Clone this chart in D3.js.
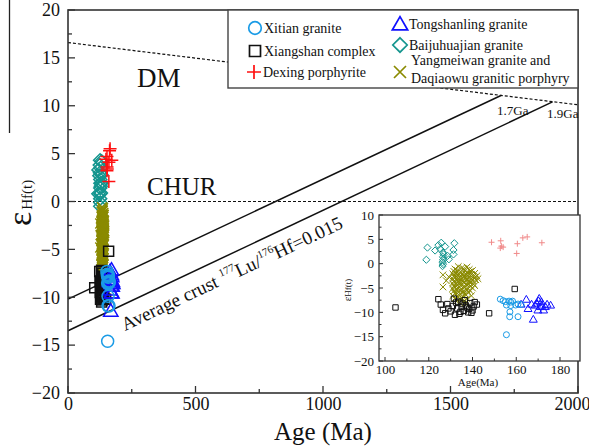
<!DOCTYPE html>
<html lang="en">
<head>
  <meta charset="UTF-8">
  <title>Hf isotope evolution</title>
  <script src="https://d3js.org/d3.v7.min.js"></script>
  <style>
    body { margin: 0; background: #fff; }
    text { font-family: "Liberation Serif", "Times New Roman", serif; fill: #111; }
  </style>
</head>
<body>
<script>
// canvas
var width = 589,
    height = 447;

// ---- data: [age (Ma), eHf(t)] ----
var xitian = [[152.7,-7.3],[154,-7.6],[155.1,-7.8],[156.7,-7.7],[157.5,-7.9],[158.3,-7.7],
  [155.5,-8.5],[157.5,-8.6],[159.7,-8.5],[160.8,-8.3],[157.1,-9.9],[157,-10.9],
  [160.8,-10.9],[155.5,-14.6],[162.2,-8.4]];

var xiangshan = [[104.8,-9.0],[124.4,-7.3],[125.5,-8.4],[126.5,-9.5],[127.5,-10.2],[128.5,-8.3],
  [130,-9.8],[131,-8.7],[132,-10.5],[133,-9.2],[133.5,-7.8],[134,-10.3],[135,-8.9],[136,-9.7],
  [136.5,-7.5],[137,-8.6],[138,-10.0],[138.5,-9.3],[139,-8.1],[140,-9.6],[140.5,-8.8],[141,-7.9],
  [142,-8.4],[131.5,-7.2],[134.5,-9.9],[137.5,-9.0],[129,-9.2],[147.6,-10.2],[159.3,-5.2],
  [135.5,-8.2],[132.5,-8.0],[139.5,-10.1]];

var dexing = [[148.7,4.4],[152.9,4.7],[153.2,3.6],[152.7,3.2],[154,3.4],[160.2,2.1],
  [160.5,4.1],[163,5.3],[165,5.5],[171.7,4.3]];

var tongshanling = [[162.2,-8.3],[164.6,-7.3],[165.4,-9.2],[167,-8.3],[167.8,-11.4],[168.6,-8.5],
  [169.4,-8.1],[170.2,-7.6],[170.5,-7.1],[171,-8.8],[171.7,-8.5],[172.5,-9.5],[173.3,-8.8],
  [174.1,-8.3],[175.7,-8.5],[169.9,-9.5],[171.5,-7.8]];

var baijuhuajian = [[119.4,3.3],[118.9,0.8],[122.9,2.7],[124.4,3.8],[125.7,4.3],[125.2,3.0],
  [126.5,2.3],[126.5,1.4],[126.5,0.8],[126.3,0.3],[126.5,-0.1],[126.3,-0.5],[126.8,1.9],
  [128.6,1.6],[129.2,0.9],[131.7,4.2],[131.3,2.8],[131.3,1.9],[127.5,3.5]];

var yangmeiwan = [[126.5,-2.3],[129.2,-2.7],[126.5,-4.8],[128,-3.5],
  [133.5,-0.6],[137.5,-0.7],[132,-1.1],[135,-0.9],[138.5,-1.2],[136,-1.0],
  [131.5,-1.6],[133,-1.4],[134.5,-1.7],[136.5,-1.5],[139,-1.6],[140,-1.4],
  [131,-2.1],[132.5,-1.9],[134,-2.2],[135.5,-2.0],[137,-2.1],[138,-1.9],[139.5,-2.2],[141,-2.0],
  [131.5,-2.6],[133,-2.4],[134.5,-2.7],[136,-2.5],[137.5,-2.6],[139,-2.4],[140.5,-2.6],[142,-2.5],
  [131,-3.1],[132,-2.9],[133.5,-3.0],[135,-3.2],[136.5,-2.9],[138,-3.1],[139.5,-3.0],[141,-2.8],[142.5,-3.1],
  [131.5,-3.6],[133,-3.4],[134,-3.5],[135.5,-3.7],[137,-3.4],[138.5,-3.6],[140,-3.5],[141.5,-3.3],
  [131,-4.1],[132.5,-3.9],[134,-4.0],[135,-4.2],[136.5,-3.9],[138,-4.1],[139,-4.0],[140.5,-4.2],
  [131.5,-4.6],[133,-4.4],[134.5,-4.5],[136,-4.7],[137.5,-4.4],[139,-4.6],[141,-4.5],
  [131,-5.1],[132,-4.9],[133.5,-5.0],[135,-5.2],[136.5,-4.9],[138,-5.1],[140,-5.0],
  [131.5,-5.6],[133,-5.4],[134.5,-5.5],[136,-5.7],[137.5,-5.4],[139,-5.6],
  [132,-6.1],[133.5,-5.9],[135,-6.0],[136.5,-6.2],[138,-5.9],
  [131,-6.6],[132.5,-6.4],[134,-6.5],[135.5,-6.7],[137,-6.4],[139.5,-6.6],
  [132,-7.1],[133.5,-6.9],[135,-7.0],[137.5,-7.2],
  [133,-7.6],[134.5,-7.4],[136,-7.7],[134,-8.0],[136.5,-8.1]];

// reference lines
var dmLine = [[0,16.6],[2000,10.1]];
var churLine = [[0,0],[2000,0]];
var crust17 = [[0,-10.2],[1700,11.1]];
var crust19 = [[0,-13.5],[1900,10.4]];

// ticks
var xTicks = [0,500,1000,1500,2000];
var yTicks = [-20,-15,-10,-5,0,5,10,15,20];
var insetXTicks = [100,120,140,160,180];
var insetYTicks = [-20,-15,-10,-5,0,5,10];

// series styles (main colour, inset colour, marker)
var series = [
  {name:"Baijuhuajian granite", data:baijuhuajian, color:"#14958e", inset:"#14958e", shape:"diamond"},
  {name:"Yangmeiwan", data:yangmeiwan, color:"#8a8a00", inset:"#8a8a00", shape:"x"},
  {name:"Xiangshan complex", data:xiangshan, color:"#111", inset:"#111", shape:"square"},
  {name:"Tongshanling granite", data:tongshanling, color:"#1010ff", inset:"#1010ff", shape:"triangle"},
  {name:"Xitian granite", data:xitian, color:"#1a9be6", inset:"#1a9be6", shape:"circle"},
  {name:"Dexing porphyrite", data:dexing, color:"#ff1010", inset:"#f08a8a", shape:"plus"}
];

// marker path, s = half size
function marker(shape, s) {
  var p = d3.path();
  if (shape == "circle") {
    p.moveTo(s, 0); p.arc(0, 0, s, 0, 2 * Math.PI);
  } else if (shape == "square") {
    p.rect(-s, -s, 2 * s, 2 * s);
  } else if (shape == "triangle") {
    p.moveTo(0, -s * 1.05); p.lineTo(s * 1.1, s * 0.85); p.lineTo(-s * 1.1, s * 0.85); p.closePath();
  } else if (shape == "diamond") {
    p.moveTo(0, -s); p.lineTo(s, 0); p.lineTo(0, s); p.lineTo(-s, 0); p.closePath();
  } else if (shape == "plus") {
    p.moveTo(-s, 0); p.lineTo(s, 0); p.moveTo(0, -s); p.lineTo(0, s);
  } else {
    p.moveTo(-s, -s); p.lineTo(s, s); p.moveTo(-s, s); p.lineTo(s, -s);
  }
  return p.toString();
}

var mainSize = {circle:6, square:5, triangle:6.5, diamond:6.5, plus:6.5, x:5};
var insetSize = {circle:3, square:2.7, triangle:3.6, diamond:3.6, plus:3, x:3.3};

var svg = d3.select("body").append("svg")
    .attr("width", width)
    .attr("height", height);

// ---- main plot ----
var x = d3.scaleLinear().domain([0, 2000]).range([68, 578]);
var y = d3.scaleLinear().domain([-20, 20]).range([393, 10]);

var line = d3.line().x(function(d){ return x(d[0]); }).y(function(d){ return y(d[1]); });

svg.append("path").datum(dmLine).attr("d", line)
   .attr("fill", "none").attr("stroke", "#111").attr("stroke-width", 1.2).attr("stroke-dasharray", "3,2");
svg.append("path").datum(churLine).attr("d", line)
   .attr("fill", "none").attr("stroke", "#111").attr("stroke-width", 1.2).attr("stroke-dasharray", "3,2");
[crust17, crust19].forEach(function(c){
  svg.append("path").datum(c).attr("d", line)
     .attr("fill", "none").attr("stroke", "#111").attr("stroke-width", 1.5);
});

// frame
svg.append("rect").attr("x", x(0)).attr("y", y(20))
   .attr("width", x(2000) - x(0)).attr("height", y(-20) - y(20))
   .attr("fill", "none").attr("stroke", "#333").attr("stroke-width", 1.6);

// axes, ticks inside
var xAxis = d3.axisBottom(x).tickValues(xTicks).tickSize(0).tickPadding(4).tickFormat(d3.format("d"));
var gx = svg.append("g").attr("transform", "translate(0," + y(-20) + ")").call(xAxis);
var yAxis = d3.axisLeft(y).tickValues(yTicks).tickSize(0).tickPadding(8);
var gy = svg.append("g").attr("transform", "translate(" + x(0) + ",0)").call(yAxis);
[gx, gy].forEach(function(g){
  g.select(".domain").remove();
  g.selectAll("text").style("font-family", "Liberation Serif").style("font-size", "18px").attr("fill", "#111");
});
gx.select(".tick:last-of-type text").attr("dx", "-6");

// tick marks
d3.range(0, 2001, 250).forEach(function(v){
  svg.append("line").attr("x1", x(v)).attr("x2", x(v))
     .attr("y1", y(-20)).attr("y2", y(-20) - (v % 500 == 0 ? 7 : 4))
     .attr("stroke", "#333").attr("stroke-width", 1.3);
});
d3.range(-20, 20.1, 2.5).forEach(function(v){
  svg.append("line").attr("y1", y(v)).attr("y2", y(v))
     .attr("x1", x(0)).attr("x2", x(0) + (v % 5 == 0 ? 7 : 4))
     .attr("stroke", "#333").attr("stroke-width", 1.3);
});

// axis titles
svg.append("text").attr("x", x(1000)).attr("y", 440).attr("text-anchor", "middle")
   .style("font-size", "25px").text("Age (Ma)");
var yl = svg.append("text").attr("transform", "translate(31,226) rotate(-90)").attr("text-anchor", "start");
yl.append("tspan").style("font-size", "34px").text("ε");
yl.append("tspan").style("font-size", "15px").attr("dx", "2").attr("dy", "1").text("Hf(t)");
svg.append("line").attr("x1", 9.5).attr("x2", 9.5).attr("y1", 0).attr("y2", 133)
   .attr("stroke", "#222").attr("stroke-width", 1.3);

// line labels
svg.append("text").attr("x", 137).attr("y", 87).style("font-size", "27px").text("DM");
svg.append("text").attr("x", 147).attr("y", 195).style("font-size", "25px").text("CHUR");
svg.append("text").attr("x", 497).attr("y", 115).style("font-size", "13px").text("1.7Ga");
svg.append("text").attr("x", 547).attr("y", 118).style("font-size", "13px").text("1.9Ga");

var ang = Math.atan2(y(crust19[1][1]) - y(crust19[0][1]), x(crust19[1][0]) - x(crust19[0][0])) * 180 / Math.PI;
var cl = svg.append("text").attr("transform", "translate(125,331) rotate(" + ang + ")").style("font-size", "19px");
cl.append("tspan").text("Average crust ");
cl.append("tspan").style("font-size", "11px").attr("dy", "-8").text("177");
cl.append("tspan").attr("dy", "8").text("Lu/");
cl.append("tspan").style("font-size", "11px").attr("dy", "-8").text("176");
cl.append("tspan").attr("dy", "8").text("Hf=0.015");

// main scatter
series.forEach(function(s){
  svg.append("g").selectAll("path").data(s.data).enter().append("path")
     .attr("transform", function(d){ return "translate(" + x(d[0]) + "," + y(d[1]) + ")"; })
     .attr("d", marker(s.shape, mainSize[s.shape]))
     .attr("fill", "none").attr("stroke", s.color).attr("stroke-width", 1.5);
});

// ---- legend ----
var lg = svg.append("g");
lg.append("rect").attr("x", 228).attr("y", 10).attr("width", 350).attr("height", 78)
  .attr("fill", "#fff").attr("stroke", "#444").attr("stroke-width", 1.4);
var legendItems = [
  {shape:"circle", color:"#1a9be6", lx:255, ly:28, text:["Xitian granite"]},
  {shape:"square", color:"#111", lx:255, ly:51, text:["Xiangshan complex"]},
  {shape:"plus", color:"#ff1010", lx:254, ly:72, text:["Dexing porphyrite"]},
  {shape:"triangle", color:"#1010ff", lx:400, ly:24, text:["Tongshanling granite"]},
  {shape:"diamond", color:"#14958e", lx:400, ly:45, text:["Baijuhuajian granite"]},
  {shape:"x", color:"#8a8a00", lx:400, ly:72, text:["Yangmeiwan granite and", "Daqiaowu granitic porphyry"]}
];
var legendSize = {circle:6.3, square:5.5, triangle:7, diamond:7.2, plus:7, x:6};
legendItems.forEach(function(it){
  lg.append("path").attr("transform", "translate(" + it.lx + "," + it.ly + ")")
    .attr("d", marker(it.shape, legendSize[it.shape]))
    .attr("fill", "none").attr("stroke", it.color).attr("stroke-width", 1.7);
  if (it.text.length == 1) {
    lg.append("text").attr("x", it.lx + 9).attr("y", it.ly + 5).style("font-size", "14px").text(it.text[0]);
  } else {
    lg.append("text").attr("x", it.lx + 11).attr("y", it.ly - 7).style("font-size", "14px").text(it.text[0]);
    lg.append("text").attr("x", it.lx + 11).attr("y", it.ly + 11).style("font-size", "14px").text(it.text[1]);
  }
});

// ---- inset ----
var ix = d3.scaleLinear().domain([100, 180]).range([385, 560]);
var iy = d3.scaleLinear().domain([-20, 10]).range([361, 215]);
var ins = svg.append("g");
ins.append("rect").attr("x", 379).attr("y", iy(10)).attr("width", 580 - 379).attr("height", iy(-20) - iy(10))
   .attr("fill", "#fff").attr("stroke", "#333").attr("stroke-width", 1.3);

var ixAxis = d3.axisBottom(ix).tickValues(insetXTicks).tickSize(0).tickPadding(4);
var gix = ins.append("g").attr("transform", "translate(0," + iy(-20) + ")").call(ixAxis);
var iyAxis = d3.axisLeft(iy).tickValues(insetYTicks).tickSize(0).tickPadding(5);
var giy = ins.append("g").attr("transform", "translate(379,0)").call(iyAxis);
[gix, giy].forEach(function(g){
  g.select(".domain").remove();
  g.selectAll("text").style("font-family", "Liberation Serif").style("font-size", "13px").attr("fill", "#111");
});
d3.range(100, 181, 10).forEach(function(v){
  ins.append("line").attr("x1", ix(v)).attr("x2", ix(v)).attr("y1", iy(-20)).attr("y2", iy(-20) - (v % 20 == 0 ? 4 : 2.5))
     .attr("stroke", "#333").attr("stroke-width", 1);
});
d3.range(-20, 10.1, 2.5).forEach(function(v){
  ins.append("line").attr("y1", iy(v)).attr("y2", iy(v)).attr("x1", 379).attr("x2", 379 + (v % 5 == 0 ? 4 : 2.5))
     .attr("stroke", "#333").attr("stroke-width", 1);
});
ins.append("text").attr("x", 478).attr("y", 386).attr("text-anchor", "middle").style("font-size", "11px").text("Age(Ma)");
var iyl = ins.append("text").attr("transform", "translate(351,290) rotate(-90)").attr("text-anchor", "middle").style("font-size", "11px");
iyl.append("tspan").text("ε");
iyl.append("tspan").style("font-size", "9px").text("Hf(t)");

series.forEach(function(s){
  ins.append("g").selectAll("path").data(s.data).enter().append("path")
     .attr("transform", function(d){ return "translate(" + ix(d[0]) + "," + iy(d[1]) + ")"; })
     .attr("d", marker(s.shape, insetSize[s.shape]))
     .attr("fill", "none").attr("stroke", s.inset).attr("stroke-width", 1);
});
</script>
</body>
</html>
